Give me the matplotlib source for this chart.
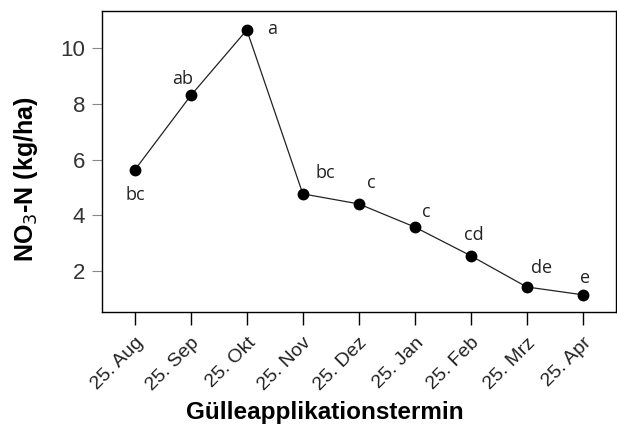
import numpy as np
import matplotlib.pyplot as plt
from matplotlib.transforms import ScaledTranslation

plt.rcParams.update({
    "font.family": ["Liberation Sans", "DejaVu Sans"],
})

# Data
dates = ['25. Aug', '25. Sep', '25. Okt', '25. Nov', '25. Dez',
         '25. Jan', '25. Feb', '25. Mrz', '25. Apr']
no3 = [5.63, 8.3, 10.65, 4.77, 4.41, 3.58, 2.55, 1.43, 1.15]
letters = ['bc', 'ab', 'a', 'bc', 'c', 'c', 'cd', 'de', 'e']
# label placement offsets in points (dx, dy)
offsets = [(0, -18), (-6, 12), (18, 1), (16, 15), (9, 15),
           (8, 11), (2, 15), (11, 14), (1.5, 12)]

fig = plt.figure(figsize=(6.17, 4.24), dpi=100)
ax = fig.add_axes([0.165, 0.264, 0.833, 0.71])

x = np.arange(len(dates))
ax.plot(x, no3, c='#222222', lw=0.9, marker='o', ms=7.5, mfc='black', mec='black')

for xi, yi, lab, (dx, dy) in zip(x, no3, letters, offsets):
    ax.annotate(lab, (xi, yi), xytext=(dx, dy), textcoords='offset points',
                ha='center', va='center', fontsize=13, family='Open Sans',
                color='#222222')

ax.set_xlim(-0.59, 8.59)
ax.set_ylim(0.53, 11.33)
ax.set_yticks([2, 4, 6, 8, 10])
ax.set_xticks(x)
ax.set_xticklabels(dates, rotation=45, ha='right', rotation_mode='anchor',
                   fontsize=14, color='#222222')
shift = ScaledTranslation(9 / 100, 0, fig.dpi_scale_trans)
for lbl in ax.get_xticklabels():
    lbl.set_transform(lbl.get_transform() + shift)
ax.tick_params(axis='y', labelsize=16, labelcolor='#333333', length=7,
               width=0.8, color='#888888', pad=5)
ax.tick_params(axis='x', length=9, width=1.0, pad=7)

ax.set_ylabel('NO$_3$-N (kg/ha)', fontsize=18, fontweight='bold')
ax.yaxis.set_label_coords(-0.148, 0.442)
ax.yaxis.label.set_va('center')
ax.set_xlabel('Gülleapplikationstermin', fontsize=17.5, fontweight='bold')
ax.xaxis.set_label_coords(0.434, -0.332)
ax.xaxis.label.set_va('center')

for s in ax.spines.values():
    s.set_linewidth(1.0)

plt.savefig('out.png', dpi=100)
